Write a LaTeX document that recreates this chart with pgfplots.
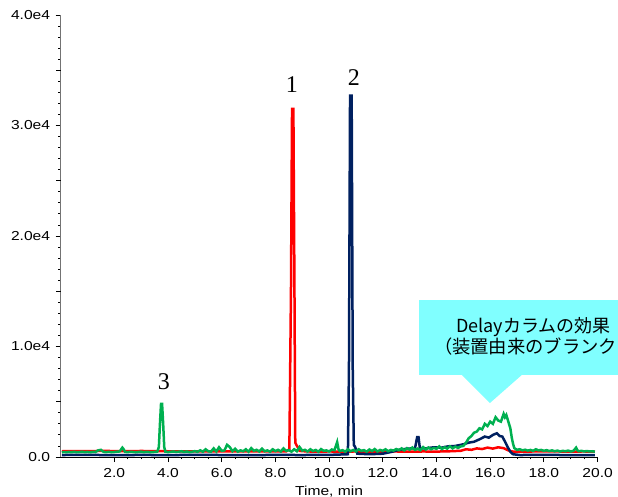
\documentclass[border=0pt]{standalone}
\usepackage{pgfplots}
\pgfplotsset{compat=1.18}
\usepackage{fontspec}
\setmainfont{Liberation Sans}
\newfontfamily\tickfont[FakeStretch=1.2]{Liberation Sans}
\newfontfamily\peakfont{Liberation Serif}
\newfontfamily\cjk{Noto Sans CJK JP}
\definecolor{cRed}{RGB}{255,0,0}
\definecolor{cNavy}{RGB}{0,32,96}
\definecolor{cGreen}{RGB}{0,176,80}
\definecolor{cCallout}{RGB}{128,255,255}
\begin{document}
\begin{tikzpicture}
\begin{axis}[
  scale only axis, width=537pt, height=442pt,
  xmin=0, xmax=20, ymin=0, ymax=40000,
  axis lines*=left,
  x axis line style={black,line width=1pt},
  y axis line style={black!55,line width=1.5pt},
  clip=false, scaled ticks=false,
  tick align=outside,
  xtick={2,4,...,20}, minor x tick num=3,
  xticklabels={2.0,4.0,6.0,8.0,10.0,12.0,14.0,16.0,18.0,20.0},
  ytick={0,10000,20000,30000,40000},
  yticklabels={0.0,1.0e4,2.0e4,3.0e4,4.0e4},
  minor ytick={1000,2000,3000,4000,6000,7000,8000,9000,11000,12000,13000,14000,16000,17000,18000,19000,21000,22000,23000,24000,26000,27000,28000,29000,31000,32000,33000,34000,36000,37000,38000,39000},
  extra y ticks={5000,15000,25000,35000}, extra y tick labels={},
  extra y tick style={major tick length=4.5pt},
  major tick length=5pt, minor tick length=2.3pt,
  every tick/.style={black,line width=0.9pt},
  tick label style={font=\fontsize{13}{15}\selectfont\tickfont},
  xticklabel style={yshift=-3pt},
  yticklabel style={xshift=-2pt},
  xlabel={Time, min},
  xlabel style={font=\fontsize{13}{15}\selectfont\tickfont, yshift=-1pt},
]
% callout
\fill[cCallout] (axis cs:13.34,14208) rectangle (axis cs:22.5,7421);
\fill[cCallout] (axis cs:14.94,7430) -- (axis cs:17.18,7430) -- (axis cs:15.99,4887) -- cycle;
\node[anchor=base west,inner sep=0,font=\fontsize{18}{20}\selectfont\cjk] at (axis cs:14.72,11222) {Delayカラムの効果};
\node[anchor=base west,inner sep=0,font=\fontsize{18.3}{20}\selectfont\cjk] at (axis cs:13.90,9367) {（装置由来のブランクピーク）};

\addplot[cRed, line width=2.5pt] coordinates {
(0.05,520) (0.5,540) (1.0,530) (1.5,550) (2.0,540) (2.5,530) (3.0,545) (3.5,535) (4.0,520) (4.5,510) (5.0,500) (5.5,520) (6.0,510) (6.5,500) (7.0,510) (7.5,500) (8.0,510) (8.4,500) (8.52,700) (8.58,15000) (8.62,31500) (8.67,31500) (8.71,15000) (8.74,1300) (8.78,1100) (8.83,900) (8.9,550) (9.2,500) (9.6,490) (10,500) (10.5,490) (11,500) (11.5,480) (12,490) (12.5,500) (13,480) (13.5,500) (14,490) (14.5,520) (14.9,560) (15.1,700) (15.3,650) (15.5,780) (15.7,720) (15.9,850) (16.1,760) (16.3,880) (16.5,800) (16.65,620) (16.8,500) (17.2,480) (17.6,500) (18,520) (18.5,500) (19,490) (19.5,500) (19.9,480)
};
\addplot[cNavy, line width=2.5pt] coordinates {
(0.05,180) (1,190) (2,170) (3,185) (4,175) (5,190) (6,180) (7,175) (8,185) (9,180) (10,190) (10.7,250) (10.74,8000) (10.78,32700) (10.84,32700) (10.88,8000) (10.92,1100) (10.97,900) (11.05,300) (11.5,250) (12,300) (12.3,450) (12.6,650) (12.9,750) (13.2,800) (13.28,1800) (13.33,1800) (13.38,800) (13.6,780) (13.9,880) (14.2,850) (14.4,950) (14.7,1000) (15.0,1150) (15.2,1300) (15.4,1380) (15.6,1600) (15.8,1850) (15.95,1750) (16.1,2000) (16.25,2150) (16.35,1900) (16.45,1850) (16.55,1400) (16.65,900) (16.75,480) (16.85,250) (17.1,180) (18,190) (19,175) (19.9,170)
};
\addplot[cGreen, line width=2.5pt] coordinates {
(0.05,420) (0.1,450) (0.2,430) (0.3,460) (0.4,440) (0.5,470) (0.6,430) (0.7,450) (0.8,480) (0.9,440) (1.0,460) (1.1,430) (1.2,470) (1.3,450) (1.4,600) (1.5,650) (1.6,460) (1.7,440) (1.8,470) (1.9,430) (2.0,450) (2.1,480) (2.2,500) (2.3,850) (2.35,700) (2.4,460) (2.5,440) (2.6,470) (2.7,450) (2.8,430) (2.9,460) (3.0,480) (3.1,440) (3.2,470) (3.3,450) (3.4,430) (3.5,460) (3.6,480)
(3.66,900) (3.70,3000) (3.74,4800) (3.78,4800) (3.82,3000) (3.86,900) (3.9,480) (4.0,440) (4.1,470) (4.2,500) (4.3,450) (4.4,480) (4.5,520) (4.6,460) (4.7,500) (4.8,440) (4.9,480) (5.0,530) (5.1,470) (5.2,600) (5.3,480) (5.4,700) (5.5,520) (5.6,480) (5.7,780) (5.8,500) (5.9,880) (6.0,560) (6.1,600) (6.2,1100) (6.3,900) (6.4,520) (6.5,750) (6.6,480) (6.7,600) (6.8,520) (6.9,700) (7.0,480) (7.1,800) (7.2,560) (7.3,650) (7.4,500) (7.5,760) (7.6,520) (7.7,600) (7.8,480) (7.9,700) (8.0,540) (8.1,650) (8.2,500) (8.3,780) (8.4,560) (8.5,620) (8.6,480) (8.7,700) (8.8,520) (8.9,900) (9.0,580) (9.1,650) (9.2,500) (9.3,700) (9.4,540) (9.5,640) (9.6,480) (9.7,720) (9.8,560) (9.9,600) (10.0,500) (10.1,680) (10.2,620) (10.3,1350) (10.35,700) (10.4,540) (10.5,620) (10.6,480) (10.7,700) (10.8,520) (10.9,640) (11.0,500) (11.1,700) (11.2,560) (11.3,620) (11.4,480) (11.5,680) (11.6,540) (11.7,720) (11.8,500) (11.9,640) (12.0,560) (12.1,700) (12.2,520) (12.3,640) (12.4,580) (12.5,720) (12.6,620) (12.7,780) (12.8,600) (12.9,800) (13.0,660) (13.1,860) (13.2,640) (13.3,760) (13.4,620) (13.5,900) (13.6,680) (13.7,860) (13.8,700) (13.9,820) (14.0,740) (14.1,960) (14.2,720) (14.3,880) (14.4,760) (14.5,980) (14.6,780) (14.7,940) (14.8,820) (14.9,960) (15.0,1000) (15.1,1300) (15.2,1700) (15.3,1900) (15.4,2200) (15.5,2300) (15.6,2600) (15.7,2500) (15.8,3000) (15.9,2800) (16.0,3200) (16.1,3000) (16.2,3600) (16.3,3300) (16.4,3200) (16.5,3900) (16.55,3600) (16.6,3800) (16.7,3000) (16.75,2600) (16.8,1800) (16.85,1200) (16.9,800) (17.0,650) (17.1,700) (17.2,600) (17.3,660) (17.4,580) (17.5,640) (17.6,560) (17.7,700) (17.8,600) (17.9,640) (18.0,560) (18.1,620) (18.2,540) (18.3,600) (18.4,520) (18.5,580) (18.6,500) (18.7,560) (18.8,520) (18.9,580) (19.0,500) (19.1,560) (19.2,850) (19.25,600) (19.3,520) (19.4,560) (19.5,500) (19.6,540) (19.7,500) (19.8,520) (19.9,480)
};
% peak labels
\node[font=\fontsize{24}{26}\selectfont\peakfont] at (axis cs:8.61,33665) {1};
\node[font=\fontsize{24}{26}\selectfont\peakfont] at (axis cs:10.92,34299) {2};
\node[font=\fontsize{24}{26}\selectfont\peakfont] at (axis cs:3.85,6787) {3};
\end{axis}
\pgfresetboundingbox
\path (current axis.south west) ++(-60.6pt,-39pt) rectangle ++(618pt,496pt);
\end{tikzpicture}
\end{document}
